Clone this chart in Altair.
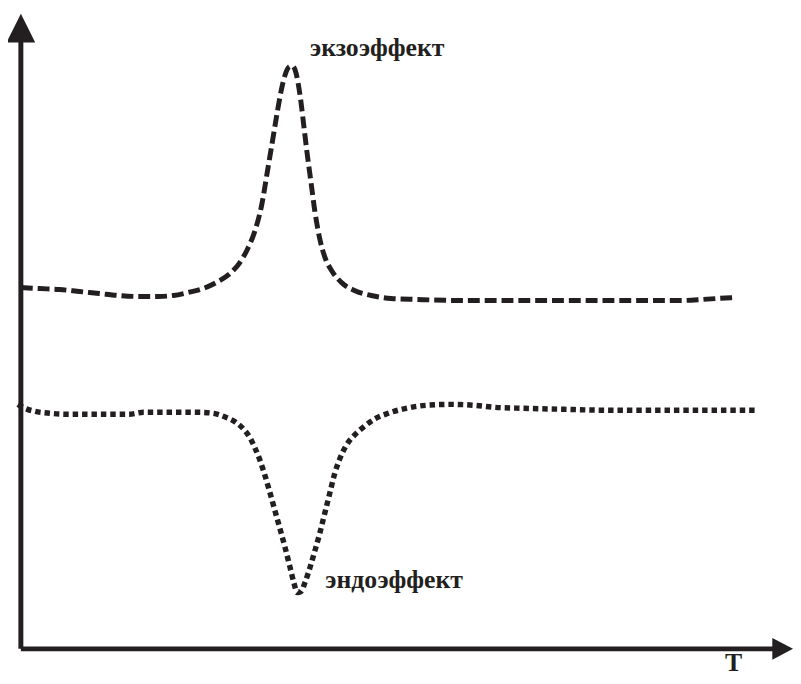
import altair as alt
import pandas as pd

# Curve readings (T in arbitrary units, signal in arbitrary units; axis origin = 0,0)
exo_T = [0, 19, 39, 59, 79, 99, 119, 139, 154, 169, 184, 199, 211, 221, 229, 237, 243, 249, 254,
         259, 263, 267, 271, 274, 277, 280, 283, 286, 289, 293, 297, 302, 307, 314, 324, 337, 354,
         374, 399, 439, 479, 539, 599, 639, 669, 689, 704, 721]
exo_S = [365, 364, 363, 361, 359, 357, 356, 356, 357, 360, 364, 371, 379, 390, 404, 424, 447, 482,
         512, 542, 564, 580, 588, 589, 585, 572, 552, 527, 502, 472, 442, 414, 396, 382, 370, 362,
         357, 354, 353, 352, 352, 352, 352, 352, 352, 353, 354, 355]

endo_T = [-3, 4, 14, 29, 49, 79, 109, 124, 149, 179, 194, 207, 217, 225, 231, 236, 241, 246, 251,
          256, 261, 267, 272, 276, 279, 283, 287, 292, 297, 302, 307, 312, 317, 323, 329, 337, 346,
          357, 371, 389, 409, 434, 459, 479, 509, 549, 599, 659, 699, 744]
endo_S = [247, 243, 240, 238, 237, 237, 237, 239, 239, 239, 238, 234, 229, 222, 214, 204, 192, 177,
          160, 142, 124, 102, 82, 66, 57, 58, 67, 82, 99, 117, 137, 157, 177, 194, 206, 216, 224,
          232, 238, 243, 246, 247, 246, 244, 243, 242, 241, 241, 241, 241]

labels = ["экзоэффект", "эндоэффект", "T"]

X_DOM = [-21, 780]
Y_DOM = [-32, 652]
INK = "#231f20"

xs = alt.Scale(domain=X_DOM, nice=False, zero=False)
ys = alt.Scale(domain=Y_DOM, nice=False, zero=False)
X = lambda f: alt.X(f, scale=xs, axis=None)
Y = lambda f: alt.Y(f, scale=ys, axis=None)

exo = pd.DataFrame({"T": exo_T, "S": exo_S, "i": range(len(exo_T))})
endo = pd.DataFrame({"T": endo_T, "S": endo_S, "i": range(len(endo_T))})

exo_line = alt.Chart(exo).mark_line(
    color=INK, strokeWidth=5, strokeDash=[12, 5], interpolate="monotone"
).encode(x=X("T:Q"), y=Y("S:Q"), order="i:Q")

endo_line = alt.Chart(endo).mark_line(
    color=INK, strokeWidth=5.5, strokeDash=[5.5, 4], interpolate="monotone"
).encode(x=X("T:Q"), y=Y("S:Q"), order="i:Q")

# axes
ax = pd.DataFrame({"x0": [0, 0], "x1": [0, 760], "y0": [0, 0], "y1": [615, 0]})
axes = alt.Chart(ax).mark_rule(color=INK, strokeWidth=5).encode(
    x=X("x0:Q"), x2="x1:Q", y=Y("y0:Q"), y2="y1:Q"
)
heads_v = alt.Chart(pd.DataFrame({"x": [0], "y": [627]})).mark_point(
    shape="M0,-1L1,1L-1,1Z", size=841, filled=True, opacity=1, color=INK, strokeWidth=0
).encode(x=X("x:Q"), y=Y("y:Q"))
heads_h = alt.Chart(pd.DataFrame({"x": [769], "y": [0]})).mark_point(
    shape="M1,0L-0.9,-1L-0.9,1Z", size=484, filled=True, opacity=1, color=INK, strokeWidth=0
).encode(x=X("x:Q"), y=Y("y:Q"))

font = dict(font="Liberation Serif", fontWeight="bold", fontSize=26,
            color=INK, align="center", baseline="middle")

exo_lab = alt.Chart(pd.DataFrame({"T": [exo_T[exo_S.index(max(exo_S))]], "S": [max(exo_S)], "t": [labels[0]]})
                    ).mark_text(dx=86, dy=-18, **font).encode(x=X("T:Q"), y=Y("S:Q"), text="t:N")
endo_lab = alt.Chart(pd.DataFrame({"T": [endo_T[endo_S.index(min(endo_S))]], "S": [min(endo_S)], "t": [labels[1]]})
                     ).mark_text(dx=98, dy=-12, **font).encode(x=X("T:Q"), y=Y("S:Q"), text="t:N")
font_t = dict(font, baseline="alphabetic")
t_lab = alt.Chart(pd.DataFrame({"T": [720], "S": [0], "t": [labels[2]]})
                  ).mark_text(dy=22, **font_t).encode(x=X("T:Q"), y=Y("S:Q"), text="t:N")

chart = alt.layer(axes, heads_v, heads_h, exo_line, endo_line, exo_lab, endo_lab, t_lab).properties(
    width=801, height=684,
    autosize=alt.AutoSizeParams(type="none"),
    padding={"left": -8, "top": -8, "right": 0, "bottom": -8},
).configure_view(stroke=None).configure(background="white")

chart.save("out.html", embed_options={"renderer": "svg", "actions": False})
